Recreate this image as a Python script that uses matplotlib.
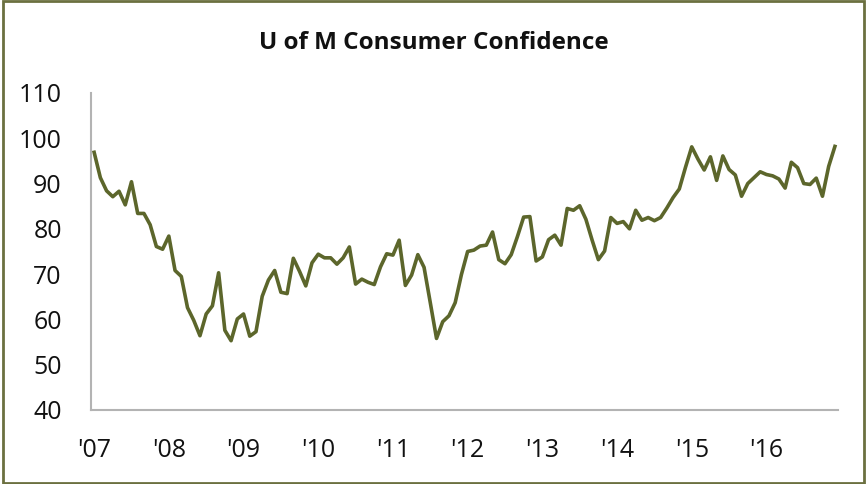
import matplotlib.pyplot as plt
from matplotlib.patches import Rectangle

plt.rcParams['font.family'] = ['Open Sans', 'DejaVu Sans']

# U of M consumer sentiment, monthly Jan 2007 - Dec 2016
sentiment = [
    96.9, 91.3, 88.4, 87.1, 88.3, 85.3, 90.4, 83.4, 83.4, 80.9, 76.1, 75.5,  # 2007
    78.4, 70.8, 69.5, 62.6, 59.8, 56.4, 61.2, 63.0, 70.3, 57.6, 55.3, 60.1,  # 2008
    61.2, 56.3, 57.3, 65.1, 68.7, 70.8, 66.0, 65.7, 73.5, 70.6, 67.4, 72.5,  # 2009
    74.4, 73.6, 73.6, 72.2, 73.6, 76.0, 67.8, 68.9, 68.2, 67.7, 71.6, 74.5,  # 2010
    74.2, 77.5, 67.5, 69.8, 74.3, 71.5, 63.7, 55.8, 59.5, 60.8, 63.7, 69.9,  # 2011
    75.0, 75.3, 76.2, 76.4, 79.3, 73.2, 72.3, 74.3, 78.3, 82.6, 82.7, 72.9,  # 2012
    73.8, 77.6, 78.6, 76.4, 84.5, 84.1, 85.1, 82.1, 77.5, 73.2, 75.1, 82.5,  # 2013
    81.2, 81.6, 80.0, 84.1, 81.9, 82.5, 81.8, 82.5, 84.6, 86.9, 88.8, 93.6,  # 2014
    98.1, 95.4, 93.0, 95.9, 90.7, 96.1, 93.1, 91.9, 87.2, 90.0, 91.3, 92.6,  # 2015
    92.0, 91.7, 91.0, 89.0, 94.7, 93.5, 90.0, 89.8, 91.2, 87.2, 93.8, 98.2,  # 2016
]
year_labels = ["'07", "'08", "'09", "'10", "'11", "'12", "'13", "'14", "'15", "'16"]
y_ticks = [40, 50, 60, 70, 80, 90, 100, 110]

fig = plt.figure(figsize=(8.66, 4.84), dpi=100)
ax = fig.add_axes([0.1051, 0.1529, 0.8626, 0.655])

months = list(range(len(sentiment)))
ax.plot(months, sentiment, color='#5c662b', linewidth=2.6, solid_joinstyle='round')

ax.set_xlim(-0.5, len(sentiment) - 0.5)
ax.set_ylim(40, 110)
ax.set_yticks(y_ticks)
ax.set_xticks(range(0, len(sentiment), 12))
ax.set_xticklabels(year_labels)
ax.tick_params(axis='both', length=0, labelsize=18, colors='#111111')
ax.tick_params(axis='y', pad=21)
ax.tick_params(axis='x', pad=20)

for side in ['top', 'right']:
    ax.spines[side].set_visible(False)
for side in ['left', 'bottom']:
    ax.spines[side].set_color('#b3b3b3')
    ax.spines[side].set_linewidth(1.5)

fig.text(0.501, 0.911, 'U of M Consumer Confidence', ha='center', va='center',
         fontsize=17.5, fontweight='bold', color='#111111')

# outer border of the chart
fig.patches.append(Rectangle((0.004, 0.003), 0.994, 0.994, transform=fig.transFigure,
                             fill=False, edgecolor='#6b7040', linewidth=2))

plt.savefig('out.png', dpi=100)
